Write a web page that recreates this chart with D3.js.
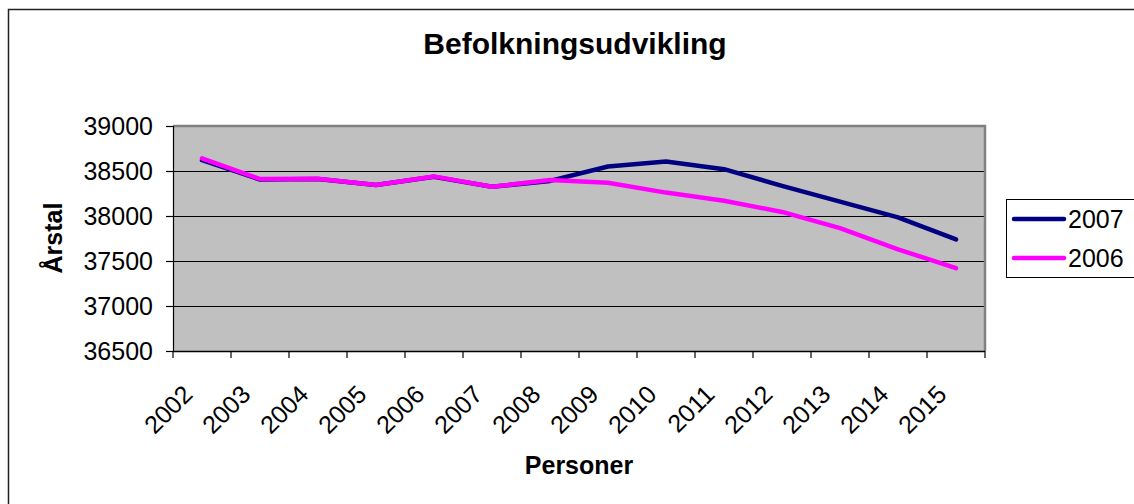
<!DOCTYPE html>
<html>
<head>
<meta charset="utf-8">
<script src="https://cdn.jsdelivr.net/npm/d3@7"></script>
<style>
  body { margin: 0; background: #fff; }
  svg { display: block; font-family: "Liberation Sans", Arial, sans-serif; }
  .tick text { font-size: 25px; fill: #000; }
</style>
</head>
<body>
<div id="chart"></div>
<script>
// data
const years = ["2002", "2003", "2004", "2005", "2006", "2007", "2008",
               "2009", "2010", "2011", "2012", "2013", "2014", "2015"]
const values2007 = [38620, 38405, 38410, 38345, 38435, 38325, 38390,
                    38550, 38605, 38520, 38335, 38160, 37985, 37740]
const values2006 = [38640, 38410, 38415, 38345, 38440, 38325, 38400,
                    38370, 38260, 38170, 38045, 37865, 37630, 37420]
const yTicks = [36500, 37000, 37500, 38000, 38500, 39000]
const seriesNames = ["2007", "2006"]
const seriesColors = ["#000080", "#ff00ff"]

const w = 1134, h = 504
const plot = {left: 173, right: 985, top: 126, bottom: 351}

const svg = d3.select("#chart").append("svg")
  .attr("width", w)
  .attr("height", h)

// outer chart frame (runs off the right/bottom edge)
svg.append("rect")
  .attr("x", 8.5).attr("y", 9.5)
  .attr("width", 1140).attr("height", 510)
  .attr("fill", "#fff")
  .attr("stroke", "#222")
  .attr("stroke-width", 1.5)

const x = d3.scaleBand()
  .domain(years)
  .range([plot.left, plot.right])

const y = d3.scaleLinear()
  .domain([36500, 39000])
  .range([plot.bottom, plot.top])

// plot area
svg.append("rect")
  .attr("x", plot.left).attr("y", plot.top)
  .attr("width", plot.right - plot.left)
  .attr("height", plot.bottom - plot.top)
  .attr("fill", "#c0c0c0")

// gridlines
svg.append("g")
  .selectAll("line")
  .data(yTicks.slice(1, -1))
  .join("line")
  .attr("x1", plot.left).attr("x2", plot.right)
  .attr("y1", d => Math.round(y(d)) + 0.5)
  .attr("y2", d => Math.round(y(d)) + 0.5)
  .attr("stroke", "#000")
  .attr("stroke-width", 1)

// gray frame on top / right
svg.append("path")
  .attr("d", `M${plot.left},${plot.top} H${plot.right} V${plot.bottom}`)
  .attr("fill", "none")
  .attr("stroke", "#808080")
  .attr("stroke-width", 2.5)

// y axis
const yAxis = svg.append("g")
  .attr("transform", `translate(${plot.left}, 0)`)
  .call(d3.axisLeft(y).tickValues(yTicks).tickSize(7).tickPadding(13).tickFormat(d3.format("d")))
yAxis.selectAll("path, line").attr("stroke", "#000").attr("stroke-width", 1.2)
yAxis.select(".domain").attr("d", `M0.5,${plot.top}V${plot.bottom}`)

// x axis, ticks between categories
const boundaries = d3.range(years.length + 1).map(i => plot.left + i * x.bandwidth())
const xAxis = svg.append("g")
svg.append("line")
  .attr("x1", plot.left).attr("x2", plot.right)
  .attr("y1", plot.bottom + 0.5).attr("y2", plot.bottom + 0.5)
  .attr("stroke", "#000").attr("stroke-width", 1.5)
xAxis.selectAll("line")
  .data(boundaries)
  .join("line")
  .attr("x1", d => d).attr("x2", d => d)
  .attr("y1", plot.bottom).attr("y2", plot.bottom + 7)
  .attr("stroke", "#000").attr("stroke-width", 1.2)
xAxis.selectAll("text")
  .data(years)
  .join("text")
  .attr("transform", d => `translate(${x(d) + x.bandwidth() / 2 - 8}, 396) rotate(-45)`)
  .attr("text-anchor", "end")
  .attr("font-size", 25)
  .text(d => d)

// lines
const line = d3.line()
  .x((d, i) => x(years[i]) + x.bandwidth() / 2)
  .y(d => y(d))

const series = [values2007, values2006]
series.forEach((vals, k) => {
  svg.append("path")
    .datum(vals)
    .attr("d", line)
    .attr("fill", "none")
    .attr("stroke", seriesColors[k])
    .attr("stroke-width", 4.5)
    .attr("stroke-linejoin", "round")
    .attr("stroke-linecap", "round")
})

// titles
svg.append("text")
  .attr("x", 575).attr("y", 54)
  .attr("text-anchor", "middle")
  .attr("font-size", 30)
  .attr("font-weight", "bold")
  .text("Befolkningsudvikling")

svg.append("text")
  .attr("x", 579).attr("y", 474)
  .attr("text-anchor", "middle")
  .attr("font-size", 25)
  .attr("font-weight", "bold")
  .text("Personer")

svg.append("text")
  .attr("transform", "translate(62, 238) rotate(-90)")
  .attr("text-anchor", "middle")
  .attr("font-size", 25)
  .attr("font-weight", "bold")
  .text("Årstal")

// legend
const legend = svg.append("g")
legend.append("rect")
  .attr("x", 1006.5).attr("y", 199.5)
  .attr("width", 140).attr("height", 78)
  .attr("fill", "#fff")
  .attr("stroke", "#000")
  .attr("stroke-width", 1)
const legendY = [219, 258]
seriesNames.forEach((name, k) => {
  legend.append("line")
    .attr("x1", 1014).attr("x2", 1064)
    .attr("y1", legendY[k]).attr("y2", legendY[k])
    .attr("stroke", seriesColors[k])
    .attr("stroke-width", 4.5)
    .attr("stroke-linecap", "round")
  legend.append("text")
    .attr("x", 1068).attr("y", legendY[k])
    .attr("dy", "0.36em")
    .attr("font-size", 25)
    .text(name)
})
</script>
</body>
</html>
